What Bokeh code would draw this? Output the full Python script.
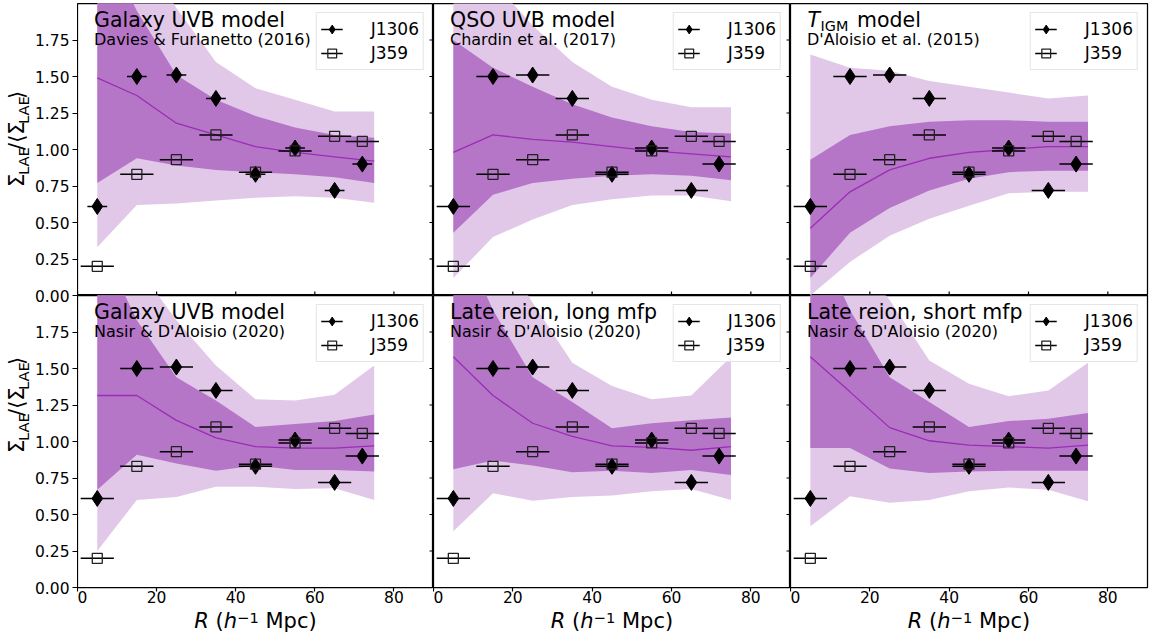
import math
from bokeh.plotting import figure
from bokeh.layouts import column, row
from bokeh.models import (Range1d, LinearAxis, FixedTicker, CustomJSTickFormatter,
                          Label, Legend, LegendItem)
from bokeh.embed import file_html
from bokeh.resources import INLINE

FONT = "DejaVu Sans"
LIGHT = "#e1c8e9"
DARK = "#b676c8"
MEDIAN = "#9a2db6"

# ---- observed surface-density profiles ----
r_obs = [5, 15, 25, 35, 45, 55, 65, 72]
j1306 = [0.61, 1.50, 1.51, 1.35, 0.83, 1.01, 0.72, 0.90]
j359 = [0.20, 0.83, 0.93, 1.10, 0.845, 0.99, 1.09, 1.055]
r_half_width = 4.2
r_half_width_df16_j1306 = 2.5

# ---- model predictions (median, 1-sigma and 2-sigma envelopes) ----
r_model = [5, 15, 25, 35, 45, 55, 65, 75]

df16_light_hi = [3.0, 2.4, 1.97, 1.60, 1.42, 1.34, 1.26, 1.26]
df16_dark_hi = [2.5, 1.95, 1.51, 1.34, 1.23, 1.15, 1.10, 1.08]
df16_median = [1.49, 1.37, 1.18, 1.10, 1.02, 0.98, 0.95, 0.92]
df16_dark_lo = [0.77, 0.94, 0.89, 0.86, 0.845, 0.83, 0.81, 0.77]
df16_light_lo = [0.33, 0.62, 0.63, 0.65, 0.67, 0.68, 0.67, 0.635]

ch17_light_hi = [2.6, 2.15, 1.85, 1.60, 1.43, 1.34, 1.29, 1.29]
ch17_dark_hi = [1.75, 1.56, 1.43, 1.31, 1.22, 1.16, 1.12, 1.11]
ch17_median = [0.98, 1.10, 1.07, 1.05, 1.02, 0.99, 0.97, 0.95]
ch17_dark_lo = [0.43, 0.69, 0.77, 0.80, 0.82, 0.83, 0.82, 0.79]
ch17_light_lo = [0.12, 0.40, 0.52, 0.62, 0.66, 0.685, 0.685, 0.645]

da15_light_hi = [1.65, 1.56, 1.54, 1.47, 1.43, 1.39, 1.35, 1.37]
da15_dark_hi = [0.93, 1.10, 1.16, 1.19, 1.20, 1.20, 1.19, 1.19]
da15_median = [0.46, 0.71, 0.86, 0.94, 0.98, 1.00, 1.02, 1.02]
da15_dark_lo = [0.12, 0.43, 0.60, 0.72, 0.80, 0.845, 0.855, 0.855]
da15_light_lo = [0.0, 0.23, 0.41, 0.525, 0.615, 0.70, 0.71, 0.71]

nd20g_light_hi = [2.8, 2.2, 1.83, 1.52, 1.29, 1.28, 1.32, 1.52]
nd20g_dark_hi = [2.4, 1.83, 1.44, 1.28, 1.10, 1.12, 1.14, 1.185]
nd20g_median = [1.315, 1.315, 1.145, 1.025, 0.965, 0.955, 0.955, 0.97]
nd20g_dark_lo = [0.67, 0.91, 0.85, 0.80, 0.835, 0.805, 0.805, 0.795]
nd20g_light_lo = [0.25, 0.60, 0.62, 0.69, 0.69, 0.675, 0.68, 0.60]

nd20l_light_hi = [3.0, 2.4, 1.95, 1.54, 1.38, 1.29, 1.315, 1.58]
nd20l_dark_hi = [2.5, 1.9, 1.44, 1.27, 1.09, 1.125, 1.145, 1.165]
nd20l_median = [1.58, 1.315, 1.125, 1.035, 0.97, 0.96, 0.94, 0.965]
nd20l_dark_lo = [0.81, 0.87, 0.835, 0.79, 0.80, 0.785, 0.805, 0.77]
nd20l_light_lo = [0.385, 0.645, 0.595, 0.62, 0.63, 0.66, 0.675, 0.60]

nd20s_light_hi = [3.0, 2.3, 1.97, 1.555, 1.395, 1.31, 1.35, 1.54]
nd20s_dark_hi = [2.5, 1.9, 1.44, 1.27, 1.10, 1.14, 1.155, 1.195]
nd20s_median = [1.58, 1.34, 1.095, 1.005, 0.975, 0.965, 0.955, 0.975]
nd20s_dark_lo = [0.955, 0.955, 0.815, 0.785, 0.795, 0.80, 0.80, 0.80]
nd20s_light_lo = [0.42, 0.625, 0.58, 0.60, 0.66, 0.685, 0.67, 0.59]

titles = ["Galaxy UVB model", "QSO UVB model", None,
          "Galaxy UVB model", "Late reion, long mfp", "Late reion, short mfp"]
subtitles = ["Davies & Furlanetto (2016)", "Chardin et al. (2017)",
             "D'Aloisio et al. (2015)", "Nasir & D'Aloisio (2020)",
             "Nasir & D'Aloisio (2020)", "Nasir & D'Aloisio (2020)"]

x_ticks = [0, 20, 40, 60, 80]
y_ticks = [0.0, 0.25, 0.5, 0.75, 1.0, 1.25, 1.5, 1.75]

models = [
    (df16_light_lo, df16_light_hi, df16_dark_lo, df16_dark_hi, df16_median),
    (ch17_light_lo, ch17_light_hi, ch17_dark_lo, ch17_dark_hi, ch17_median),
    (da15_light_lo, da15_light_hi, da15_dark_lo, da15_dark_hi, da15_median),
    (nd20g_light_lo, nd20g_light_hi, nd20g_dark_lo, nd20g_dark_hi, nd20g_median),
    (nd20l_light_lo, nd20l_light_hi, nd20l_dark_lo, nd20l_dark_hi, nd20l_median),
    (nd20s_light_lo, nd20s_light_hi, nd20s_dark_lo, nd20s_dark_hi, nd20s_median),
]

# page geometry (pixels)
W, H = 1153, 641
LEFT = 77                 # left edge of the panel grid
YLAB_W = 33               # strip holding the rotated y labels
FRAME_W = [356, 357, 357]
RIGHT_PAD = 6
TOP_PAD = 3
FRAME_H = 292
TICKLAB_H = 21            # room under the bottom row for tick labels
XLAB_H = H - TOP_PAD - 2 * FRAME_H - TICKLAB_H
TICK_PX = "15.5px"
Y_MAX = 2.0


def lift(size):
    # alphabetic-baseline correction used for every hand-placed text
    return 0.34 * size


def label(p, text, x, y, dx, dy, size, style="normal", angle=0.0):
    p.add_layout(Label(x=x, y=y, x_offset=dx, y_offset=dy, text=text,
                       text_font=FONT, text_font_size=f"{size}px",
                       text_font_style=style, text_color="black",
                       text_align="left", text_baseline="alphabetic",
                       angle=angle))


def bare_figure(width, height, xr, yr, **borders):
    p = figure(width=width, height=height, x_range=xr, y_range=yr,
               x_axis_location=None, y_axis_location=None,
               output_backend="svg", toolbar_location=None,
               min_border_left=borders.get("left", 0),
               min_border_right=borders.get("right", 0),
               min_border_top=borders.get("top", 0),
               min_border_bottom=borders.get("bottom", 0))
    p.grid.visible = False
    p.outline_line_color = None
    p.background_fill_color = "white"
    p.border_fill_color = "white"
    return p


def make_panel(i):
    col, top = i % 3, i < 3
    rb = RIGHT_PAD if col == 2 else 0
    tb = TOP_PAD if top else 0
    bb = 0 if top else TICKLAB_H
    p = bare_figure(FRAME_W[col] + rb, FRAME_H + tb + bb,
                    Range1d(0, 90), Range1d(0, Y_MAX),
                    right=rb, top=tb, bottom=bb)
    p.outline_line_color = "black"
    p.outline_line_width = 1.25

    light_lo, light_hi, dark_lo, dark_hi, med = models[i]
    p.varea(x=r_model, y1=light_lo, y2=light_hi, fill_color=LIGHT)
    p.varea(x=r_model, y1=dark_lo, y2=dark_hi, fill_color=DARK)
    p.line(r_model, med, line_color=MEDIAN, line_width=1.3)

    e1 = r_half_width_df16_j1306 if i == 0 else r_half_width
    seg1 = p.segment(x0=[r - e1 for r in r_obs], y0=j1306,
                     x1=[r + e1 for r in r_obs], y1=j1306,
                     line_color="black", line_width=1.5)
    sc1 = p.scatter(r_obs, j1306, marker="diamond", size=16,
                    fill_color="black", line_color="black")
    seg2 = p.segment(x0=[r - r_half_width for r in r_obs], y0=j359,
                     x1=[r + r_half_width for r in r_obs], y1=j359,
                     line_color="black", line_width=1.5)
    sc2 = p.scatter(r_obs, j359, marker="square", size=10,
                    fill_color=None, line_color="#222222", line_width=1.3)

    # short tick marks where a neighbouring panel's axis meets this one
    if col < 2:
        p.ray(x=[90] * len(y_ticks), y=y_ticks, length=4, angle=math.pi,
              length_units="screen", line_color="black", line_width=1.2)
    if top:
        p.ray(x=x_ticks, y=[0] * len(x_ticks), length=4, angle=math.pi / 2,
              length_units="screen", line_color="black", line_width=1.2)
    else:
        xa = LinearAxis(ticker=FixedTicker(ticks=x_ticks))
        xa.major_tick_out = 4
        xa.major_tick_in = 0
        xa.minor_tick_line_color = None
        xa.axis_line_color = None
        xa.major_tick_line_width = 1.2
        xa.major_label_standoff = -1
        xa.major_label_text_font = FONT
        xa.major_label_text_font_size = TICK_PX
        xa.major_label_text_color = "black"
        p.add_layout(xa, "below")

    # panel title and reference
    if titles[i] is not None:
        label(p, titles[i], 0, Y_MAX, 16.5, -23 + lift(20.5), 20.5)
    else:
        label(p, "T", 0, Y_MAX, 17.0, -23 + lift(20.5), 20.5, style="italic")
        label(p, "IGM", 0, Y_MAX, 30.0, -27 + lift(14.4), 14.4)
        label(p, "model", 0, Y_MAX, 66.5, -23 + lift(20.5), 20.5)
    label(p, subtitles[i], 0, Y_MAX, 16.5, -41 + lift(16), 16)

    leg = Legend(items=[LegendItem(label="J1306", renderers=[seg1, sc1]),
                        LegendItem(label="J359", renderers=[seg2, sc2])],
                 location="top_right")
    leg.label_text_font = FONT
    leg.label_text_font_size = "17px"
    leg.label_text_color = "black"
    leg.glyph_width = 22
    leg.glyph_height = 24
    leg.label_height = 24
    leg.label_standoff = 28
    leg.spacing = 0
    leg.padding = 4
    leg.margin = 9
    leg.border_line_color = "#cccccc"
    leg.border_line_width = 1
    leg.background_fill_color = "white"
    leg.background_fill_alpha = 0.8
    p.add_layout(leg)
    return p


panels = [make_panel(i) for i in range(6)]

# shared y axis for both rows: lower row 0..2, upper row 2..4
axis_w = LEFT - YLAB_W
axf = bare_figure(axis_w, H, Range1d(0, 1), Range1d(0, 2 * Y_MAX),
                  left=axis_w - 1, top=TOP_PAD, bottom=H - TOP_PAD - 2 * FRAME_H)
stacked = y_ticks + [t + Y_MAX for t in y_ticks]
ya = LinearAxis(ticker=FixedTicker(ticks=stacked),
                formatter=CustomJSTickFormatter(
                    code="return (tick >= 2 ? tick - 2 : tick).toFixed(2);"))
ya.major_tick_out = 5
ya.major_tick_in = 0
ya.minor_tick_line_color = None
ya.axis_line_color = None
ya.major_tick_line_width = 1.2
ya.major_label_standoff = 3
ya.major_label_text_font = FONT
ya.major_label_text_font_size = TICK_PX
ya.major_label_text_color = "black"
axf.add_layout(ya, "left")

# rotated y labels: Sigma_LAE / <Sigma_LAE>, one per row
ylab = bare_figure(YLAB_W, H, Range1d(0, YLAB_W), Range1d(0, H))
ang = math.pi / 2
pieces = [("\u03a3", 21, 0.0), ("LAE", 14.7, 4.0), ("/\u27e8\u03a3", 21, 0.0),
          ("LAE", 14.7, 4.0), ("\u27e9", 21, 0.0)]
widths = [13.3, 27.5, 28.5, 27.5, 8.2]
for r in range(2):
    centre = H - (TOP_PAD + FRAME_H * r + FRAME_H / 2)
    pos = centre - sum(widths) / 2
    for (txt, size, drop), w in zip(pieces, widths):
        label(ylab, txt, 24 + drop - lift(size), pos, 0, 0, size, angle=ang)
        pos += w

# x labels: R (h^-1 Mpc) under each lower panel
xlab = bare_figure(W - LEFT, XLAB_H, Range1d(0, W - LEFT), Range1d(0, XLAB_H))
base = 13
space = 6.7
for c in range(3):
    cx = sum(FRAME_W[:c]) + FRAME_W[c] / 2
    label(xlab, "R", cx - 61.2, base + lift(21), 0, 0, 21, style="italic")
    label(xlab, "(", cx - 46.6 + space, base + lift(21), 0, 0, 21)
    label(xlab, "h", cx - 31.7, base + lift(21), 0, 0, 21, style="italic")
    label(xlab, "\u22121", cx - 18.4, base + 6 + lift(14.7), 0, 0, 14.7)
    label(xlab, "Mpc)", cx + 3.3 + space, base + lift(21), 0, 0, 21)

layout = row(ylab, axf,
             column(row(*panels[:3]), row(*panels[3:]), xlab))

open("out.html", "w").write(file_html(layout, INLINE))
